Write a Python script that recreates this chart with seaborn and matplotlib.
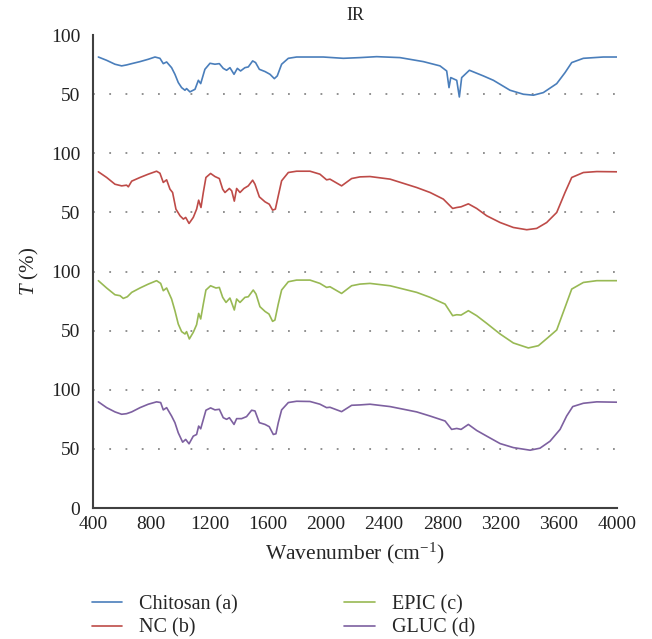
import matplotlib
matplotlib.use("Agg")
import matplotlib.pyplot as plt
import pandas as pd
import seaborn as sns

# ---- data (T in %) ----
chitosan_wn = [437, 494, 551, 597, 631, 666, 723, 780, 826, 860, 883, 906, 940, 963, 986, 1009, 1032, 1043,
               1066, 1101, 1124, 1140, 1169, 1204, 1238, 1268, 1295, 1318, 1341, 1369, 1392, 1414, 1444, 1467,
               1497, 1517, 1543, 1582, 1616, 1646, 1666, 1696, 1742, 1799, 1982, 2120, 2234, 2349, 2509, 2670,
               2784, 2830, 2846, 2858, 2899, 2917, 2933, 2986, 3082, 3151, 3265, 3357, 3426, 3494, 3586, 3643,
               3689, 3769, 3906, 4000]
chitosan_t = [81.5, 78.7, 75.4, 74.0, 74.8, 75.9, 77.6, 79.6, 81.5, 80.4, 75.9, 77.3, 72.5, 66.9, 59.9, 55.6,
              53.4, 54.8, 52.0, 54.2, 61.8, 59.0, 71.1, 76.2, 75.4, 75.9, 71.9, 70.3, 72.5, 66.9, 71.9, 69.7,
              72.5, 73.1, 78.2, 76.8, 71.1, 69.2, 66.9, 63.2, 65.5, 75.4, 80.4, 81.5, 81.5, 80.4, 81.0, 81.8,
              81.0, 77.6, 74.0, 69.7, 55.6, 64.1, 61.8, 47.7, 64.1, 70.3, 65.5, 61.8, 53.4, 50.0, 49.2, 51.4,
              59.0, 68.3, 76.8, 80.4, 81.5, 81.5]

nc_wn = [437, 494, 551, 597, 631, 643, 666, 723, 780, 837, 860, 883, 906, 929, 947, 970, 998, 1021, 1037,
         1060, 1089, 1112, 1126, 1142, 1158, 1176, 1208, 1238, 1268, 1291, 1307, 1337, 1353, 1371, 1387, 1410,
         1437, 1467, 1497, 1513, 1543, 1582, 1611, 1634, 1653, 1673, 1696, 1742, 1799, 1891, 1959, 2005, 2028,
         2108, 2177, 2234, 2303, 2441, 2624, 2716, 2807, 2871, 2899, 2929, 2979, 3036, 3105, 3197, 3288, 3380,
         3448, 3517, 3586, 3643, 3689, 3769, 3861, 4000]
nc_t = [84.4, 79.6, 73.9, 72.5, 73.1, 71.7, 76.5, 79.6, 82.4, 84.9, 83.2, 75.4, 77.6, 69.7, 66.9, 52.8, 47.2,
        44.4, 45.8, 40.7, 45.8, 52.8, 60.4, 54.2, 66.9, 79.6, 83.0, 80.4, 78.7, 69.7, 66.9, 70.3, 68.3, 59.6,
        70.3, 66.9, 70.3, 72.5, 77.3, 73.9, 63.2, 59.0, 57.0, 52.0, 52.8, 64.1, 76.8, 83.8, 84.9, 84.9, 82.4,
        77.6, 78.2, 72.5, 78.7, 80.1, 80.4, 78.2, 71.1, 66.9, 61.3, 53.4, 54.2, 54.8, 57.3, 53.4, 47.2, 41.5,
        37.3, 35.4, 36.5, 41.5, 50.0, 66.9, 79.6, 83.8, 84.6, 84.4]

epic_wn = [437, 494, 551, 586, 608, 636, 666, 723, 780, 837, 865, 883, 906, 940, 963, 986, 1009, 1032, 1043,
           1062, 1089, 1112, 1126, 1140, 1158, 1176, 1208, 1245, 1268, 1291, 1314, 1341, 1371, 1387, 1410, 1444,
           1467, 1501, 1520, 1547, 1582, 1609, 1634, 1650, 1673, 1696, 1742, 1799, 1891, 1959, 2005, 2028, 2108,
           2177, 2234, 2303, 2441, 2624, 2716, 2819, 2871, 2899, 2929, 2979, 3036, 3105, 3197, 3288, 3391, 3460,
           3528, 3586, 3643, 3689, 3769, 3861, 4000]
epic_t = [92.3, 86.1, 80.4, 79.6, 77.3, 78.7, 82.4, 86.1, 89.4, 92.3, 90.0, 83.8, 86.1, 76.8, 66.9, 55.6, 49.2,
          47.2, 49.2, 43.0, 48.6, 55.1, 64.6, 59.9, 72.5, 84.4, 88.0, 86.1, 86.6, 78.2, 73.9, 77.6, 67.5, 76.8,
          73.9, 78.2, 78.7, 84.4, 81.0, 70.3, 66.3, 64.1, 57.9, 59.0, 72.5, 84.4, 91.4, 92.8, 92.8, 90.0, 86.6,
          87.2, 81.5, 88.0, 89.4, 90.0, 88.0, 82.4, 78.2, 72.5, 62.7, 63.5, 63.2, 66.9, 62.7, 56.2, 47.2, 39.6,
          35.4, 37.3, 44.4, 50.6, 69.7, 85.2, 90.8, 92.3, 92.3]

gluc_wn = [437, 494, 551, 597, 631, 666, 723, 780, 837, 865, 883, 906, 940, 963, 986, 1016, 1037, 1060, 1089,
           1112, 1126, 1140, 1176, 1208, 1238, 1268, 1295, 1318, 1337, 1369, 1387, 1421, 1455, 1490, 1513, 1543,
           1582, 1611, 1639, 1657, 1673, 1696, 1742, 1799, 1891, 1959, 2005, 2028, 2108, 2177, 2234, 2303, 2441,
           2624, 2716, 2819, 2864, 2899, 2929, 2979, 3036, 3105, 3197, 3288, 3403, 3471, 3540, 3609, 3654, 3696,
           3769, 3861, 4000]
gluc_t = [89.8, 84.9, 81.3, 79.3, 79.8, 81.3, 84.9, 87.8, 89.8, 89.2, 83.0, 84.9, 77.8, 72.2, 63.6, 55.7, 58.0,
          54.3, 60.8, 62.2, 69.3, 67.0, 82.7, 84.7, 83.0, 83.5, 76.4, 75.0, 76.4, 70.7, 75.6, 75.6, 77.3, 82.7,
          82.1, 72.2, 70.7, 68.8, 62.2, 62.8, 72.2, 83.0, 89.2, 90.3, 90.1, 87.8, 84.9, 85.2, 81.5, 86.9, 87.2,
          87.8, 85.8, 81.3, 77.8, 73.6, 66.5, 67.3, 66.5, 70.7, 65.6, 60.8, 54.5, 51.1, 48.9, 50.6, 56.5, 66.5,
          77.8, 85.8, 88.6, 89.8, 89.5]

names = ["Chitosan (a)", "NC (b)", "EPIC (c)", "GLUC (d)"]
offsets = [300, 200, 100, 0]          # vertical stacking of the spectra
colors = ["#4a7ebb", "#be4b48", "#98b954", "#7d60a0"]
ytick_labels = ["0", "50", "100", "50", "100", "50", "100", "50", "100"]

frames = []
for name, wn, t, off in zip(names, [chitosan_wn, nc_wn, epic_wn, gluc_wn],
                            [chitosan_t, nc_t, epic_t, gluc_t], offsets):
    frames.append(pd.DataFrame({"wn": wn, "T": [v + off for v in t], "sample": name}))
df = pd.concat(frames, ignore_index=True)

sns.set_theme(style="white")
plt.rcParams["font.family"] = ["Liberation Serif", "DejaVu Serif"]
plt.rcParams["mathtext.fontset"] = "custom"
plt.rcParams["mathtext.rm"] = "Liberation Serif"
plt.rcParams["mathtext.it"] = "Liberation Serif:italic"

fig = plt.figure(figsize=(6.52, 6.39), dpi=100)
ax = fig.add_axes([0.1426, 0.205, 0.8037, 0.740])

sns.lineplot(data=df, x="wn", y="T", hue="sample", hue_order=names, palette=colors,
             estimator=None, sort=True, linewidth=1.2, ax=ax)

ax.set_xlim(400, 4000)
ax.set_ylim(0, 400)
ax.set_xticks(range(400, 4001, 400))
ax.set_yticks(range(0, 401, 50))
ax.set_yticklabels(ytick_labels)
ax.tick_params(axis="x", labelsize=14, length=0, pad=6, colors="#222222")
ax.tick_params(axis="y", labelsize=14, length=0, pad=9, colors="#222222")

for y in range(50, 400, 50):
    ax.axhline(y, color="#888888", linestyle=(0, (1, 8)), linewidth=1.3, zorder=0)

for side in ["top", "right"]:
    ax.spines[side].set_visible(False)
for side in ["left", "bottom"]:
    ax.spines[side].set_color("#404040")
    ax.spines[side].set_linewidth(1.5)

ax.set_title("IR", fontsize=13, pad=11)
ax.set_xlabel("Wavenumber (cm$^{-1}$)", fontsize=15.5, labelpad=5)
ax.set_ylabel("$T$ (%)", fontsize=15, labelpad=7)

handles, labels = ax.get_legend_handles_labels()
ax.get_legend().remove()
fig.legend(handles, labels, ncol=2, loc="upper left", bbox_to_anchor=(0.128, 0.081),
           frameon=False, fontsize=14.5, handlelength=1.5, handletextpad=0.85,
           columnspacing=5.3, labelspacing=0.2, borderaxespad=0)

fig.savefig("out.png", dpi=100)
